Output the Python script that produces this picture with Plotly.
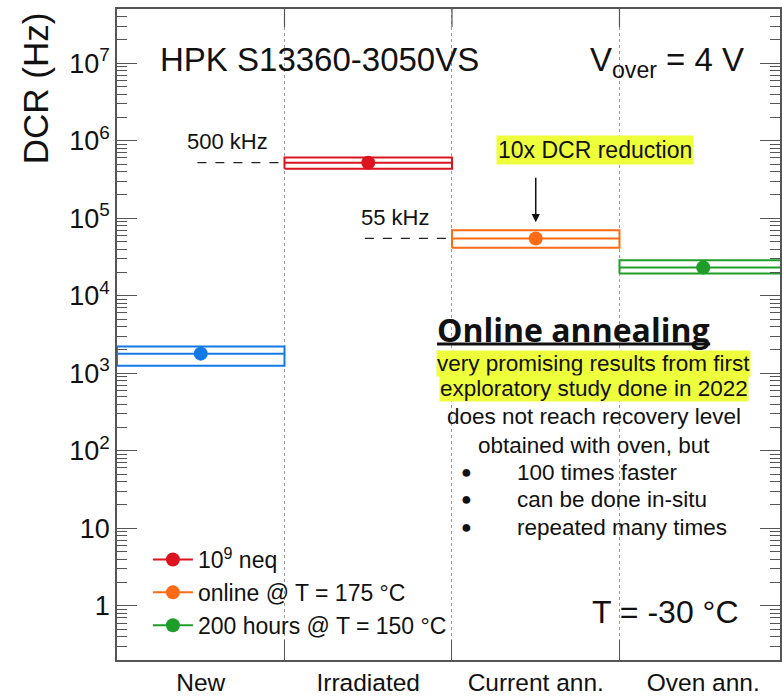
import math
import plotly.graph_objects as go

# ---------------- data ----------------
categories = ["New", "Irradiated", "Current ann.", "Oven ann."]
dcr_value = [1790, 521000, 54800, 23100]
dcr_low = [1254, 436000, 41600, 19400]
dcr_high = [2208, 605000, 70200, 28800]
series_colors = ["#1479e6", "#dc1420", "#ff6a14", "#1e9e28"]
legend_labels = [None, "10<sup>9</sup> neq", "online @ T = 175 °C", "200 hours @ T = 150 °C"]
ref_labels = [None, "500 kHz", "55 kHz", None]
ytick_vals = [1, 10, 100, 1e3, 1e4, 1e5, 1e6, 1e7]
ytick_text = ["1", "10", "10<sup>2</sup>", "10<sup>3</sup>", "10<sup>4</sup>",
              "10<sup>5</sup>", "10<sup>6</sup>", "10<sup>7</sup>"]

# ---------------- layout helpers ----------------
W, H = 782, 697
L, R, T, B = 117, 0, 9, 37
PW, PH = W - L - R, H - T - B
CAT_PX = 168.0


def px(x):
    return (x - L) / PW


def py(y):
    return (H - B - y) / PH


FONT = "Liberation Sans, Arial, Helvetica, sans-serif"
AXC = "#555555"
YEL = "#eeff3c"
TXT = "#111111"

fig = go.Figure()


def note(x, y, text, size, xanchor="center", yanchor="middle", **kw):
    fig.add_annotation(x=px(x), y=py(y), xref="paper", yref="paper", text=text,
                       showarrow=False, xanchor=xanchor, yanchor=yanchor,
                       font=dict(family=kw.pop("family", FONT), size=size, color=TXT), **kw)


n = len(categories)
for i in range(n):
    c = series_colors[i]
    lo, hi, v = dcr_low[i], dcr_high[i], dcr_value[i]
    fig.add_trace(go.Scatter(x=[i, i + 1, i + 1, i, i], y=[lo, lo, hi, hi, lo],
                             mode="lines", line=dict(color=c, width=2),
                             showlegend=False, hoverinfo="skip"))
    fig.add_trace(go.Scatter(x=[i, i + 1], y=[v, v], mode="lines",
                             line=dict(color=c, width=2), showlegend=False, hoverinfo="skip"))
    fig.add_trace(go.Scatter(x=[i + 0.5], y=[v], mode="markers",
                             marker=dict(color=c, size=14), showlegend=False))
    if ref_labels[i]:
        fig.add_trace(go.Scatter(x=[i - 0.52, i], y=[v, v], mode="lines",
                                 line=dict(color="#222222", width=1.3, dash="dash"),
                                 showlegend=False, hoverinfo="skip"))
        fig.add_annotation(x=i - 0.34, y=math.log10(v), xref="x", yref="y",
                           text=ref_labels[i], showarrow=False, yshift=21,
                           xanchor="center", yanchor="middle",
                           font=dict(family=FONT, size=22, color=TXT))

for i in range(n):
    if legend_labels[i]:
        fig.add_trace(go.Scatter(x=[None], y=[None], mode="lines+markers",
                                 name=legend_labels[i],
                                 line=dict(color=series_colors[i], width=2),
                                 marker=dict(color=series_colors[i], size=14)))

# arrow to current annealing
fig.add_annotation(x=2.5, y=math.log10(dcr_high[2]), xref="x", yref="y", ax=0, ay=-54,
                   showarrow=True, arrowhead=2, arrowsize=1.1, arrowwidth=1.5,
                   arrowcolor=TXT, standoff=8, text="")
note(596, 150, "10x DCR reduction", 23, bgcolor=YEL, borderpad=1)

# titles
note(158, 60, "HPK S13360-3050VS", 33, xanchor="left")
note(748, 62, "V<sub>over</sub> = 4 V", 33, xanchor="right")
note(742, 612, "T = -30 °C", 32, xanchor="right")
note(35, 10, "DCR (Hz)", 35, yanchor="top", textangle=-90)

# online annealing text block
note(575, 329, "<b>Online annealing</b>", 32, family="Open Sans, Lato, sans-serif")
fig.add_shape(type="line", xref="paper", yref="paper", x0=px(438), x1=px(712),
              y0=py(344), y1=py(344), line=dict(color=TXT, width=3))
note(595, 363, "very promising results from first", 22.5, bgcolor=YEL, borderpad=0)
note(595, 388, "exploratory study done in 2022", 22.5, bgcolor=YEL, borderpad=0)
note(595, 417, "does not reach recovery level", 22.5)
note(595, 445, "obtained with oven, but", 22.5)
for txt, yy in [("100 times faster", 472), ("can be done in-situ", 499),
                ("repeated many times", 527)]:
    note(468, yy, "●", 18)
    note(516, yy, txt, 22.5, xanchor="left")

# boundary ticks on top
for b in range(1, n):
    fig.add_shape(type="line", xref="x", yref="paper", x0=b, x1=b, y0=1, y1=1 - 18 / PH,
                  line=dict(color=AXC, width=1.2))

minor_y = [k * 10 ** e for e in range(-1, 8) for k in range(2, 10)]
minor_y = [m for m in minor_y if 0.2 <= m <= 5e7]

fig.update_layout(
    width=W, height=H,
    margin=dict(l=L, r=R, t=T, b=B, pad=0),
    paper_bgcolor="white", plot_bgcolor="white",
    showlegend=True,
    legend=dict(x=px(148), y=py(538), xanchor="left", yanchor="top",
                bgcolor="rgba(0,0,0,0)", font=dict(family=FONT, size=23, color=TXT),
                itemwidth=40, tracegroupgap=0),
    xaxis=dict(range=[0, PW / CAT_PX], showline=True, linecolor=AXC, linewidth=1.5,
               mirror=True, tickvals=[i + 0.5 for i in range(n)], ticktext=categories,
               ticks="", showgrid=False, zeroline=False,
               tickfont=dict(family=FONT, size=24.5, color=TXT),
               minor=dict(tickvals=list(range(1, n)), ticks="inside", ticklen=20,
                          tickcolor=AXC, tickwidth=1.2, showgrid=True,
                          gridcolor="#9a9a9a", griddash="dot", gridwidth=1)),
    yaxis=dict(type="log", range=[-0.699, 7.699], showline=True, linecolor=AXC,
               linewidth=1.5, mirror="ticks", tickvals=ytick_vals, ticktext=ytick_text,
               ticks="inside", ticklen=20, tickcolor=AXC, tickwidth=1.2,
               showgrid=False, zeroline=False,
               tickfont=dict(family=FONT, size=27, color=TXT),
               minor=dict(tickvals=minor_y, ticks="inside", ticklen=10,
                          tickcolor=AXC, tickwidth=1.2, showgrid=False)),
)

fig.write_html("out.html")
